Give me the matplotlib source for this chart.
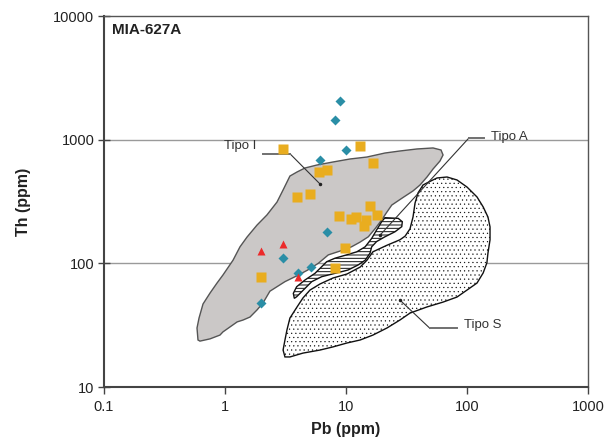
import matplotlib
matplotlib.use("Agg")
import matplotlib.pyplot as plt
from matplotlib.ticker import FixedLocator, FuncFormatter, NullLocator

plt.rcParams['font.family'] = ['Liberation Sans', 'DejaVu Sans']
plt.rcParams['hatch.linewidth'] = 0.7

# ---- sample data (Pb, Th in ppm) ----
pb_sq = [3.0, 13.1, 16.8, 5.95, 7.0, 3.95, 5.05, 15.9, 8.8, 11.0, 12.0, 14.6, 14.0, 18.2, 9.85, 8.15, 2.0]
th_sq = [845, 895, 652, 545, 565, 341, 367, 293, 240, 228, 235, 224, 201, 245, 132, 91, 77]

pb_dia = [8.9, 8.05, 10.0, 6.05, 7.0, 3.0, 5.1, 4.0, 2.0]
th_dia = [2060, 1450, 830, 690, 180, 110, 93, 84, 47.5]

pb_tri = [2.0, 3.0, 4.0]
th_tri = [126, 143, 78]

# ---- granite type fields ----
tipo_i_pb = [0.598, 0.587, 0.610, 0.658, 0.752, 0.859, 0.962, 1.165, 1.33, 1.52, 1.84, 2.22,
             2.69, 3.02, 3.44, 3.94, 4.58, 5.76, 7.81, 10.8, 14.9, 21.0, 27.9, 38.6, 52.4,
             61.0, 63.4, 59.8, 52.4, 46.7, 40.9, 35.8, 29.5, 23.9, 21.5, 19.7, 17.5, 15.3,
             13.0, 11.1, 9.0, 7.14, 5.90, 4.8, 3.9, 3.13, 2.35, 2.06, 1.84, 1.61,
             1.41, 1.26, 1.10, 0.962, 0.909, 0.752, 0.621]
tipo_i_th = [24.0, 30.0, 36.1, 46.9, 57.5, 69.3, 80.5, 106, 136, 163, 204, 246,
             313, 392, 508, 548, 590, 624, 660, 698, 724, 780, 810, 841, 857,
             825, 752, 672, 579, 499, 430, 385, 340, 296, 255, 224, 192, 164,
             148, 136, 126, 117, 100, 88, 79, 71.1, 59.5, 47.8, 42.0, 36.8,
             34.8, 33.6, 30.6, 27.9, 26.3, 24.5, 23.5]

tipo_a_pb = [21.0, 27.0, 29.2, 28.9, 25.4, 21.0, 17.9, 16.3, 15.8, 14.4, 12.6, 10.4, 8.11,
             6.30, 5.21, 4.44, 3.91, 3.74, 3.67, 3.91, 4.58, 5.54, 6.30, 6.92, 8.11, 10.1,
             12.3, 14.4, 16.3, 17.9, 19.7]
tipo_a_th = [234, 231, 217, 198, 180, 164, 150, 136, 121, 106, 97.0, 88.3, 83.0,
             78.0, 71.1, 60.8, 53.7, 52.1, 57.2, 64.7, 73.3, 83.0, 94.0, 103, 110, 117,
             124, 136, 159, 186, 217]

tipo_s_pb = [43.3, 46.7, 56.5, 68.4, 82.7, 100, 121, 136, 149, 155, 155, 149, 146, 136, 121,
             100, 82.7, 63.4, 46.7, 33.8, 27.9, 21.8, 16.7, 13.1, 10.2, 7.81, 6.10, 4.41,
             3.44, 3.13, 3.02, 3.13, 3.25, 3.44, 3.94, 4.41, 5.04, 6.10, 7.81, 10.2, 13.1,
             14.9, 16.7, 21.8, 27.9, 30.8, 33.8, 35.8, 37.2, 39.4, 43.3]
tipo_s_th = [430, 447, 490, 499, 472, 414, 344, 286, 237, 197, 155, 121, 101, 83.6, 69.3,
             60.8, 53.4, 48.6, 44.4, 39.6, 34.8, 30.0, 26.3, 24.0, 22.7, 21.1, 19.9, 18.8,
             17.5, 17.5, 19.9, 24.0, 28.9, 36.1, 44.4, 52.5, 60.8, 68.1, 76.1, 82.0, 93.3,
             106, 124, 140, 155, 166, 190, 237, 307, 371, 430]

x_ticks = [0.1, 1, 10, 100, 1000]
y_ticks = [10, 100, 1000, 10000]

fig = plt.figure(figsize=(6.12, 4.48), dpi=100)
ax = fig.add_axes([104 / 612, 1 - 387 / 448, 484 / 612, 371 / 448])
ax.set_xscale('log')
ax.set_yscale('log')
ax.set_xlim(0.1, 1000)
ax.set_ylim(10, 10000)

# horizontal reference lines
for yv in [100, 1000]:
    ax.axhline(yv, color='#9a9a9a', lw=1.0, zorder=1)

# fields
ax.fill(tipo_i_pb, tipo_i_th, facecolor='#cbc8c7', edgecolor='#555555', lw=1.0, zorder=2)
with plt.rc_context({'hatch.linewidth': 0.35}):
    s_patch, = ax.fill(tipo_s_pb, tipo_s_th, facecolor='white', edgecolor='#111111', lw=1.0,
                       hatch='....', zorder=3)
    if hasattr(s_patch, 'set_hatch_linewidth'):
        s_patch.set_hatch_linewidth(0.35)
ax.fill(tipo_a_pb, tipo_a_th, facecolor='white', edgecolor='#111111', lw=1.0,
        hatch='-----', zorder=4)

# field labels with leader lines
lead = dict(color='#333333', lw=0.8, zorder=5)
bar = dict(color='#707070', lw=1.4, zorder=5)
ax.plot([3.44, 6.10], [770, 438], **lead)
ax.plot([2.07, 3.44], [770, 770], **bar)
ax.plot([6.10], [438], 'o', color='#222222', ms=1.5, zorder=5)
ax.text(1.80, 890, 'Tipo I', ha='right', va='center', fontsize=9.5, color='#333333')

ax.plot([104, 19.1], [1035, 169], **lead)
ax.plot([104, 138], [1035, 1035], **bar)
ax.plot([19.1], [169], 'o', color='#222222', ms=1.5, zorder=5)
ax.text(158, 1050, 'Tipo A', ha='left', va='center', fontsize=9.5, color='#333333')

ax.plot([49.4, 27.9], [29.8, 50.5], **lead)
ax.plot([49.4, 82.2], [29.8, 29.8], **bar)
ax.plot([27.9], [50.5], 'o', color='#222222', ms=1.5, zorder=5)
ax.text(94, 31.7, 'Tipo S', ha='left', va='center', fontsize=9.5, color='#333333')

# samples
ax.plot(pb_sq, th_sq, 's', color='#e9ad1f', ms=6.6, mec='none', zorder=7)
ax.plot(pb_dia, th_dia, 'D', color='#2a8ea6', ms=4.8, mec='none', zorder=7)
ax.plot(pb_tri, th_tri, '^', color='#ec2a2a', ms=6.0, mec='none', zorder=7)

ax.text(0.0165, 0.962, 'MIA-627A', transform=ax.transAxes, ha='left', va='center',
        fontsize=11, fontweight='bold', color='#222222')

# axes styling
ax.xaxis.set_major_locator(FixedLocator(x_ticks))
ax.yaxis.set_major_locator(FixedLocator(y_ticks))
ax.xaxis.set_minor_locator(NullLocator())
ax.yaxis.set_minor_locator(NullLocator())
fmt = FuncFormatter(lambda v, p: '%g' % v)
ax.xaxis.set_major_formatter(fmt)
ax.yaxis.set_major_formatter(fmt)
ax.tick_params(axis='x', direction='out', length=5, width=1.0, color='#444444',
               labelsize=10.5, pad=4, labelcolor='#222222')
ax.tick_params(axis='y', direction='inout', length=8, width=1.0, color='#444444',
               labelsize=10.5, pad=3, labelcolor='#222222')
for s in ['left', 'bottom']:
    ax.spines[s].set_linewidth(1.5)
    ax.spines[s].set_color('#444444')
for s in ['top', 'right']:
    ax.spines[s].set_linewidth(1.0)
    ax.spines[s].set_color('#555555')

ax.set_xlabel('Pb (ppm)', fontsize=11.5, fontweight='bold', color='#222222', labelpad=6)
ax.set_ylabel('Th (ppm)', fontsize=11.5, fontweight='bold', color='#222222', labelpad=16)

fig.savefig('out.png', dpi=100)
